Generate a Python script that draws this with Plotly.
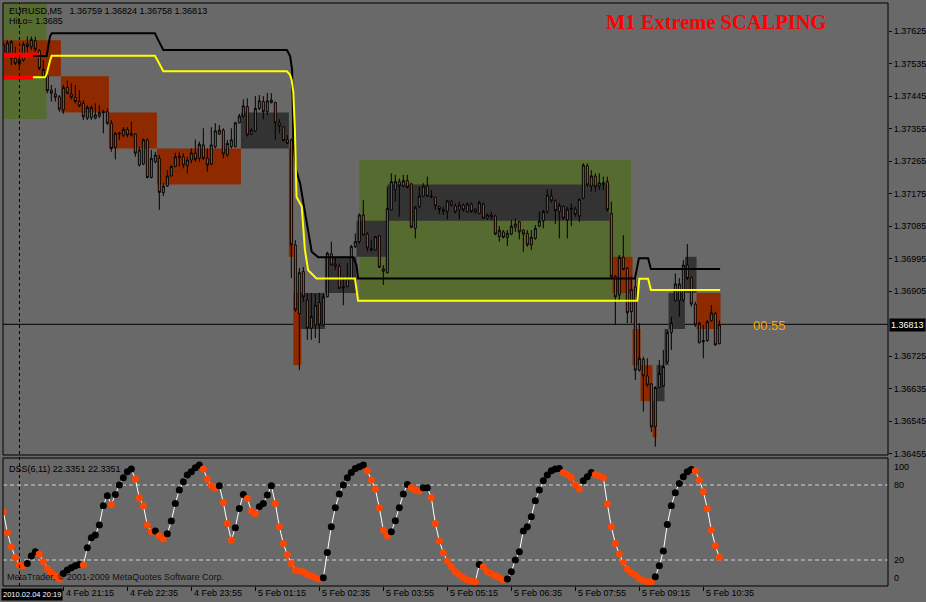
import plotly.graph_objects as go

# ---------------- data ----------------
bars = list(range(180))  # M5 bars, bar 0 = 4 Feb 20:00

open_ = [1.37587,1.37564,1.37550,1.37550,1.37534,1.37545,1.37582,1.37582,1.37599,1.37571,
1.37497,1.37501,1.37462,1.37451,1.37443,1.37407,1.37469,1.37451,1.37442,1.37430,
1.37425,1.37384,1.37386,1.37384,1.37390,1.37403,1.37402,1.37370,1.37303,1.37340,
1.37337,1.37353,1.37342,1.37340,1.37254,1.37257,1.37324,1.37220,1.37263,1.37273,
1.37178,1.37196,1.37224,1.37250,1.37279,1.37277,1.37253,1.37268,1.37287,1.37273,
1.37310,1.37273,1.37257,1.37305,1.37340,1.37351,1.37282,1.37305,1.37305,1.37371,
1.37390,1.37416,1.37340,1.37349,1.37411,1.37430,1.37402,1.37427,1.37427,1.37371,
1.37360,1.37324,1.37324,1.37033,1.36842,1.36959,1.36880,1.36802,1.36811,1.36873,
1.36811,1.36889,1.37008,1.36980,1.36974,1.36913,1.36917,1.36940,1.37028,1.37042,
1.37116,1.37063,1.37023,1.37019,1.37058,1.36967,1.36956,1.37130,1.37185,1.37208,
1.37196,1.37211,1.37202,1.37079,1.37139,1.37168,1.37196,1.37168,1.37165,1.37139,
1.37126,1.37126,1.37153,1.37141,1.37130,1.37143,1.37125,1.37146,1.37132,1.37120,
1.37146,1.37107,1.37116,1.37113,1.37056,1.37069,1.37054,1.37063,1.37082,1.37097,
1.37074,1.37065,1.37033,1.37051,1.37085,1.37100,1.37125,1.37168,1.37155,1.37125,
1.37139,1.37102,1.37132,1.37132,1.37113,1.37162,1.37252,1.37196,1.37224,1.37196,
1.37200,1.37208,1.37120,1.36945,1.36894,1.36999,1.36968,1.36848,1.36917,1.36686,
1.36716,1.36670,1.36648,1.36529,1.36638,1.36642,1.36709,1.36790,1.36878,1.36878,
1.36880,1.36977,1.36942,1.36869,1.36762,1.36768,1.36768,1.36823,1.36843,1.36759]

high = [1.37592,1.37601,1.37601,1.37582,1.37559,1.37596,1.37610,1.37610,1.37610,1.37575,
1.37545,1.37508,1.37476,1.37467,1.37448,1.37476,1.37488,1.37481,1.37476,1.37462,
1.37434,1.37420,1.37420,1.37425,1.37420,1.37407,1.37411,1.37379,1.37346,1.37346,
1.37359,1.37359,1.37374,1.37342,1.37305,1.37328,1.37328,1.37296,1.37291,1.37282,
1.37204,1.37240,1.37254,1.37288,1.37291,1.37287,1.37277,1.37300,1.37325,1.37319,
1.37356,1.37300,1.37359,1.37370,1.37365,1.37356,1.37324,1.37356,1.37374,1.37396,
1.37436,1.37439,1.37356,1.37445,1.37448,1.37445,1.37454,1.37453,1.37430,1.37381,
1.37362,1.37337,1.37328,1.37046,1.36969,1.36972,1.36900,1.36900,1.36897,1.36900,
1.36899,1.37014,1.37042,1.36997,1.36982,1.36945,1.36982,1.37033,1.37065,1.37120,
1.37157,1.37069,1.37047,1.37056,1.37060,1.36977,1.37194,1.37231,1.37227,1.37217,
1.37227,1.37227,1.37204,1.37141,1.37194,1.37204,1.37222,1.37185,1.37166,1.37141,
1.37139,1.37157,1.37157,1.37148,1.37153,1.37148,1.37150,1.37150,1.37134,1.37155,
1.37150,1.37120,1.37125,1.37116,1.37085,1.37074,1.37074,1.37102,1.37107,1.37100,
1.37076,1.37074,1.37074,1.37088,1.37125,1.37130,1.37187,1.37187,1.37159,1.37150,
1.37143,1.37139,1.37148,1.37139,1.37162,1.37259,1.37259,1.37240,1.37231,1.37231,
1.37222,1.37222,1.37153,1.36950,1.37005,1.37060,1.36972,1.36945,1.36945,1.36816,
1.36723,1.36719,1.36649,1.36642,1.36714,1.36742,1.36797,1.36834,1.36954,1.36941,
1.36991,1.37035,1.36945,1.36876,1.36820,1.36811,1.36825,1.36866,1.36848,1.36824]

low = [1.37556,1.37553,1.37531,1.37531,1.37517,1.37540,1.37568,1.37573,1.37568,1.37517,
1.37494,1.37453,1.37430,1.37430,1.37402,1.37396,1.37451,1.37436,1.37425,1.37414,
1.37379,1.37379,1.37379,1.37381,1.37384,1.37342,1.37365,1.37291,1.37270,1.37324,
1.37331,1.37331,1.37333,1.37277,1.37250,1.37254,1.37217,1.37217,1.37259,1.37130,
1.37168,1.37194,1.37222,1.37248,1.37250,1.37245,1.37231,1.37259,1.37263,1.37263,
1.37268,1.37236,1.37254,1.37300,1.37337,1.37273,1.37277,1.37300,1.37303,1.37370,
1.37386,1.37333,1.37337,1.37346,1.37406,1.37381,1.37393,1.37425,1.37325,1.37342,
1.37319,1.37312,1.36941,1.36847,1.36686,1.36876,1.36770,1.36770,1.36775,1.36761,
1.36808,1.36888,1.36977,1.36963,1.36910,1.36866,1.36916,1.36936,1.37024,1.37037,
1.37058,1.37014,1.37014,1.37017,1.36969,1.36922,1.36954,1.37128,1.37153,1.37111,
1.37192,1.37190,1.37079,1.37051,1.37134,1.37166,1.37166,1.37162,1.37130,1.37118,
1.37116,1.37104,1.37139,1.37120,1.37104,1.37125,1.37122,1.37122,1.37120,1.37118,
1.37104,1.37102,1.37102,1.37060,1.37042,1.37051,1.37030,1.37060,1.37069,1.37048,
1.37014,1.37028,1.37019,1.37047,1.37082,1.37079,1.37120,1.37150,1.37091,1.37051,
1.37102,1.37051,1.37085,1.37111,1.37097,1.37159,1.37194,1.37180,1.37180,1.37185,
1.37185,1.37125,1.36940,1.36811,1.36876,1.36963,1.36816,1.36816,1.36659,1.36682,
1.36571,1.36640,1.36515,1.36474,1.36636,1.36640,1.36705,1.36742,1.36876,1.36834,
1.36876,1.36936,1.36862,1.36806,1.36760,1.36719,1.36765,1.36820,1.36753,1.36758]

close = [1.37559,1.37593,1.37596,1.37536,1.37545,1.37589,1.37589,1.37602,1.37575,1.37522,
1.37519,1.37460,1.37453,1.37442,1.37409,1.37469,1.37453,1.37442,1.37430,1.37418,
1.37388,1.37414,1.37414,1.37393,1.37399,1.37399,1.37370,1.37300,1.37342,1.37342,
1.37353,1.37337,1.37337,1.37287,1.37296,1.37324,1.37220,1.37273,1.37282,1.37178,
1.37196,1.37224,1.37250,1.37277,1.37276,1.37254,1.37268,1.37288,1.37270,1.37312,
1.37273,1.37254,1.37310,1.37349,1.37351,1.37285,1.37314,1.37324,1.37371,1.37390,
1.37418,1.37337,1.37351,1.37411,1.37432,1.37402,1.37432,1.37434,1.37371,1.37362,
1.37322,1.37314,1.37033,1.36853,1.36956,1.36889,1.36802,1.36834,1.36866,1.36811,
1.36889,1.37010,1.36977,1.36974,1.36913,1.36916,1.36940,1.37028,1.37042,1.37116,
1.37060,1.37024,1.37019,1.37056,1.36971,1.36960,1.37134,1.37208,1.37208,1.37196,
1.37211,1.37192,1.37082,1.37137,1.37168,1.37196,1.37168,1.37166,1.37141,1.37131,
1.37130,1.37155,1.37143,1.37124,1.37143,1.37130,1.37146,1.37125,1.37124,1.37150,
1.37107,1.37116,1.37111,1.37063,1.37074,1.37054,1.37065,1.37085,1.37091,1.37069,
1.37063,1.37033,1.37054,1.37079,1.37099,1.37125,1.37171,1.37155,1.37128,1.37143,
1.37107,1.37132,1.37134,1.37118,1.37159,1.37254,1.37199,1.37224,1.37194,1.37205,
1.37205,1.37130,1.36945,1.36889,1.36999,1.36965,1.36845,1.36910,1.36686,1.36719,
1.36670,1.36645,1.36529,1.36638,1.36677,1.36696,1.36790,1.36817,1.36925,1.36925,
1.36977,1.36940,1.36869,1.36811,1.36816,1.36765,1.36820,1.36845,1.36756,1.36813]

# HiLo upper (black) and lower (yellow) lines: knots (bar index, price)
hilo_hi_x = [7.4, 10.84, 11.3, 11.67, 12.1, 37.9, 38.7, 39.6, 40.0, 70.9, 71.7, 72.2, 72.5, 73.2,
             74.2, 74.9, 75.8, 77.1, 78.7, 87.5, 88.3, 88.7, 157.9, 158.2, 158.9, 161.2, 161.9, 179.2]
hilo_hi_y = [1.37556, 1.37556, 1.37587, 1.37610, 1.37619, 1.37619, 1.37601, 1.37582, 1.37573, 1.37573,
             1.37556, 1.37517, 1.37324, 1.37240, 1.37204, 1.37157, 1.37102, 1.37014, 1.36999, 1.36999,
             1.36977, 1.36940, 1.36940, 1.36960, 1.36996, 1.36996, 1.36966, 1.36966]
hilo_lo_x = [7.4, 10.42, 10.84, 11.24, 11.67, 12.09, 37.9, 38.74, 39.6, 40.0, 70.9, 71.67, 72.09, 72.49,
             72.9, 73.3, 74.6, 75.4, 76.2, 77.1, 78.3, 87.9, 88.3, 88.7, 158.5, 159.0, 161.2, 161.9, 179.2]
hilo_lo_y = [1.37497, 1.37497, 1.37506, 1.37527, 1.37543, 1.37557, 1.37557, 1.37540, 1.37522, 1.37514,
             1.37514, 1.37504, 1.37490, 1.37457, 1.37351, 1.37166, 1.37139, 1.37019, 1.36963, 1.36952,
             1.36940, 1.36940, 1.36910, 1.36878, 1.36878, 1.36939, 1.36939, 1.36908, 1.36908]
red_hi_x = [-0.5, 8.9]
red_hi_y = [1.37558, 1.37558]
red_lo_x = [-0.5, 7.4]
red_lo_y = [1.37496, 1.37496]

# zones: (start bar, end bar, low price, high price, kind)
zone_x0 = [-0.5, -0.5, 14.4, 26.4, 38.4, 59.4, 71.4, 72.5, 74.3, 80.4, 89.0, 88.3, 96.0,
           152.3, 157.3, 159.3, 162.3, 163.3, 165.3, 166.3, 170.4, 173.3]
zone_x1 = [10.8, 14.4, 26.4, 38.4, 59.4, 71.4, 72.5, 74.5, 80.4, 88.3, 156.9, 96.0, 151.5,
           157.3, 159.3, 162.3, 163.3, 165.3, 166.3, 170.4, 173.3, 179.3]
zone_lo = [1.37382, 1.375, 1.374, 1.373, 1.372, 1.373, 1.370, 1.367, 1.368, 1.369, 1.36882, 1.370, 1.371,
           1.369, 1.367, 1.366, 1.365, 1.366, 1.367, 1.368, 1.369, 1.368]
zone_hi = [1.3775, 1.376, 1.375, 1.374, 1.373, 1.374, 1.373, 1.369, 1.369, 1.370, 1.37268, 1.371, 1.372,
           1.370, 1.368, 1.367, 1.366, 1.367, 1.368, 1.369, 1.370, 1.369]
zone_kind = ["green", "brown", "brown", "brown", "brown", "dark", "brown", "brown", "dark", "dark", "green", "dark", "dark",
             "brown", "brown", "brown", "brown", "dark", "dark", "dark", "dark", "brown"]

# DSS(6,11) values per bar
dss = [58.7, 41.9, 30.7, 22.1, 16.0, 15.5, 17.3, 23.2, 26.7, 24.8,
       18.7, 13.3, 10.1, 7.5, 4.8, 9.3, 12.0, 13.9, 15.5, 16.5,
       16.0, 29.9, 37.9, 40.0, 48.0, 63.5, 71.5, 64.5, 72.5, 80.0,
       85.9, 90.7, 92.8, 84.8, 69.9, 63.5, 48.0, 42.7, 43.2, 39.5,
       36.8, 41.0, 51.2, 65.3, 76.0, 82.7, 88.0, 90.7, 93.9, 96.0,
       92.8, 84.8, 79.5, 77.9, 79.5, 66.1, 49.3, 36.0, 45.9, 61.3,
       72.5, 69.3, 59.2, 57.1, 62.7, 65.3, 72.0, 79.5, 65.3, 46.7,
       33.3, 24.0, 17.3, 12.0, 11.2, 10.7, 8.5, 7.5, 5.9, 4.8,
       5.9, 26.1, 46.7, 61.9, 72.8, 80.0, 85.9, 90.1, 93.3, 94.7,
       96.0, 91.5, 84.0, 76.8, 61.9, 44.0, 39.5, 42.7, 51.5, 61.9,
       72.8, 80.5, 78.1, 76.0, 75.2, 77.9, 77.9, 69.9, 49.3, 35.2,
       25.9, 19.2, 14.7, 10.7, 8.5, 5.9, 4.0, 3.2, 2.7, 16.5,
       14.7, 10.7, 9.3, 7.5, 5.9, 4.0, 4.8, 10.7, 20.0, 26.7,
       43.2, 46.7, 54.7, 67.5, 76.0, 83.5, 88.0, 91.5, 92.8, 93.3,
       90.1, 88.5, 85.9, 80.5, 76.8, 83.5, 86.7, 90.1, 88.5, 87.2,
       85.9, 64.8, 46.7, 33.3, 24.8, 18.1, 12.8, 9.9, 8.0, 5.3,
       3.7, 2.7, 2.6, 6.7, 15.5, 27.2, 48.5, 63.5, 73.9, 81.3,
       86.7, 90.7, 92.5, 91.2, 84.0, 74.7, 61.3, 44.0, 31.5, 22.3]

price_ticks = [1.37625, 1.37535, 1.37445, 1.37355, 1.37265, 1.37175, 1.37085,
               1.36995, 1.36905, 1.36725, 1.36635, 1.36545, 1.36455]
last_price = 1.36813
time_tick_bars = [15, 31, 47, 63, 79, 95, 111, 127, 143, 159, 175]
time_tick_labels = ["4 Feb 21:15", "4 Feb 22:35", "4 Feb 23:55", "5 Feb 01:15", "5 Feb 02:35",
                    "5 Feb 03:55", "5 Feb 05:15", "5 Feb 06:35", "5 Feb 07:55", "5 Feb 09:15", "5 Feb 10:35"]
dss_levels = [80, 20]
dss_labels = [100, 80, 20, 0]
crosshair_bar = 4.04

# ---------------- style / layout ----------------
W, H = 926, 602
BG = "#696969"
ORANGE = "#ff4500"
FONT = "Liberation Sans, Arial, sans-serif"
zone_colors = {"green": "#556b2f", "brown": "#8f2a00", "dark": "#333333"}

def px(x):
    return x / W

def py(y):
    return 1 - y / H

X0, X1 = px(3), px(888)
XR = [-0.08, 221.17]

fig = go.Figure()

fig.add_trace(go.Scatter(x=red_hi_x, y=red_hi_y, mode="lines", line=dict(color="#ff0000", width=5),
                         xaxis="x", yaxis="y", hoverinfo="skip"))
fig.add_trace(go.Scatter(x=red_lo_x, y=red_lo_y, mode="lines", line=dict(color="#ff0000", width=4),
                         xaxis="x", yaxis="y", hoverinfo="skip"))

fig.add_trace(go.Candlestick(
    x=bars, open=open_, high=high, low=low, close=close, xaxis="x", yaxis="y",
    increasing=dict(line=dict(color="black", width=1), fillcolor="#6e6e6e"),
    decreasing=dict(line=dict(color="black", width=1), fillcolor=ORANGE),
    whiskerwidth=0, hoverinfo="skip", showlegend=False))

fig.add_trace(go.Scatter(x=hilo_hi_x, y=hilo_hi_y, mode="lines", line=dict(color="black", width=2),
                         xaxis="x", yaxis="y", hoverinfo="skip"))
fig.add_trace(go.Scatter(x=hilo_lo_x, y=hilo_lo_y, mode="lines", line=dict(color="#ffff00", width=2),
                         xaxis="x", yaxis="y", hoverinfo="skip"))

dss_colors = [ORANGE if (i == 0 or dss[i] < dss[i - 1]) else "black" for i in range(len(dss))]
fig.add_trace(go.Scatter(x=bars, y=dss, mode="lines+markers", xaxis="x2", yaxis="y2",
                         line=dict(color="white", width=1),
                         marker=dict(color=dss_colors, size=7, line=dict(width=0)),
                         hoverinfo="skip"))

shapes = []
for x0, x1, lo, hi, k in zip(zone_x0, zone_x1, zone_lo, zone_hi, zone_kind):
    shapes.append(dict(type="rect", xref="x", yref="y", x0=x0, x1=x1, y0=lo, y1=hi,
                       fillcolor=zone_colors[k], line=dict(width=0), layer="below"))
shapes.append(dict(type="line", xref="paper", yref="y", x0=X0, x1=X1, y0=last_price, y1=last_price,
                   line=dict(color="black", width=1), layer="below"))
for lv in dss_levels:
    shapes.append(dict(type="line", xref="paper", yref="y2", x0=X0, x1=X1, y0=lv, y1=lv,
                       line=dict(color="#d4d4d4", width=1, dash="4px,3px"), layer="below"))
shapes.append(dict(type="line", xref="x", yref="paper", x0=crosshair_bar, x1=crosshair_bar,
                   y0=py(586), y1=py(3), line=dict(color="black", width=1, dash="3px,3px")))
shapes.append(dict(type="rect", xref="paper", yref="paper", x0=X0, x1=X1, y0=py(455), y1=py(3),
                   line=dict(color="black", width=1)))
shapes.append(dict(type="rect", xref="paper", yref="paper", x0=X0, x1=X1, y0=py(586), y1=py(458),
                   line=dict(color="black", width=1)))

f9 = dict(family=FONT, size=9, color="black")
ann = []
def text(x, y, t, font=f9, xanchor="left", **kw):
    d = dict(x=x, y=y, xref="paper", yref="paper", text=t, showarrow=False, font=font,
             xanchor=xanchor, yanchor="middle")
    d.update(kw)
    ann.append(d)

text(px(7), py(11), "EURUSD,M5\u00a0\u00a0 1.36759 1.36824 1.36758 1.36813")
text(px(7), py(21), "HiLo= 1.3685")
text(px(604), py(22), "<b>M1 Extreme SCALPING</b>",
     font=dict(family="Liberation Serif, Times New Roman, serif", size=20.5, color="#ff0000"))
text(px(751), py(325), "00:55", font=dict(family=FONT, size=13, color="#ffa500"))
text(px(889), py(324.5), "1.36813", font=dict(family=FONT, size=9, color="white"),
     bgcolor="black", borderpad=1)
text(px(7), py(469), "DSS(6,11) 22.3351 22.3351")
text(px(5), py(577), "MetaTrader, \u00a9 2001-2009 MetaQuotes Software Corp.",
     font=dict(family=FONT, size=9, color="#111111"))
for lab, ypix in zip(dss_labels, [467, 485, 560, 578]):
    text(px(892), py(ypix), str(lab))
text(px(0.5), py(594), "2010.02.04 20:19", font=dict(family=FONT, size=7.5, color="white"),
     xanchor="left", bgcolor="black", borderpad=1)
for b, lab in zip(time_tick_bars, time_tick_labels):
    ann.append(dict(x=b, y=py(593), xref="x2", yref="paper", text=lab, showarrow=False, font=f9,
                    xanchor="left", yanchor="middle", xshift=1))

fig.update_layout(
    width=W, height=H, margin=dict(l=0, r=0, t=0, b=0), autosize=False,
    paper_bgcolor=BG, plot_bgcolor=BG, showlegend=False,
    xaxis=dict(domain=[X0, X1], range=XR, anchor="y", showticklabels=False, ticks="",
               showgrid=False, zeroline=False, showline=False, rangeslider=dict(visible=False)),
    yaxis=dict(domain=[py(455), py(3)], range=[1.36451, 1.37703], anchor="x", side="right",
               ticks="outside", ticklen=3, tickcolor="black", tickvals=price_ticks,
               ticktext=["%.5f" % v for v in price_ticks], tickfont=f9,
               showgrid=False, zeroline=False, showline=False, automargin=False),
    xaxis2=dict(domain=[X0, X1], range=XR, anchor="y2", ticks="outside", ticklen=4, tickcolor="black",
                tickvals=time_tick_bars, showticklabels=False, showgrid=False, zeroline=False,
                showline=False),
    yaxis2=dict(domain=[py(586), py(458)], range=[-0.8, 101.6], anchor="x2", side="right",
                showticklabels=False, ticks="", showgrid=False, zeroline=False, showline=False),
    shapes=shapes, annotations=ann,
)

fig.write_html("out.html")
